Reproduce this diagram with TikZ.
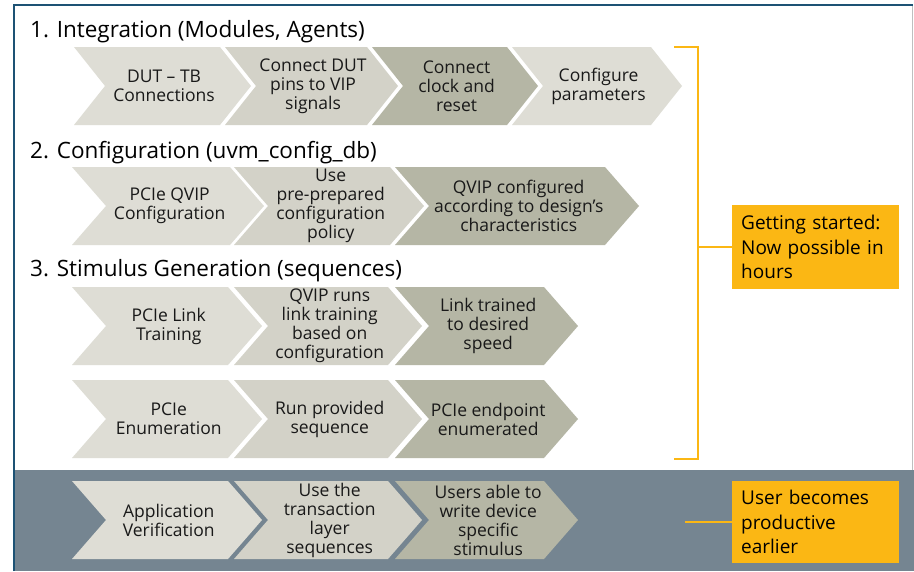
\documentclass[tikz,border=0pt]{standalone}
\usepackage{fontspec}
\setmainfont{Open Sans}
\usepackage{tikz}
\usetikzlibrary{calc}

\definecolor{chevlight}{HTML}{DEDDD5}
\definecolor{chevmid}{HTML}{D3D2C8}
\definecolor{chevdark}{HTML}{B5B6A5}
\definecolor{band}{HTML}{758591}
\definecolor{frameblue}{HTML}{1D5274}
\definecolor{sunny}{HTML}{FBB714}

\begin{document}
\begin{tikzpicture}[x=1pt, y=-1pt, font=\fontsize{17.5}{19}\selectfont,
	chevtext/.style={align=center, inner sep=0pt, text=black!90},
	head/.style={font=\fontsize{22.5}{26}\selectfont, anchor=base west, inner sep=0pt},
	note/.style={fill=sunny, anchor=north west, align=left, inner sep=9pt, text width=149pt, font=\fontsize{19}{24.5}\selectfont},
	brk/.style={draw=sunny, line width=2pt}]
	\def\h{78}
	\def\chev#1#2#3#4#5#6#7{%
		\fill[#6] (#2,#3) -- ++(#4,0) -- ++(#5,0.5*\h) -- ++(-#5,0.5*\h) -- ++(-#4,0) -- ++(#5,-0.5*\h) -- cycle;
		\node[chevtext] (#1) at (#2+0.5*#4+0.55*#5, #3+0.5*\h) {#7};}

	\useasboundingbox (0,0) rectangle (914,571);
	\fill[white] (0,0) rectangle (914,571);
	\fill[band] (13,470) rectangle (914,571);
	\draw[black!25, line width=1pt] (912,5) -- (912,470);
	\draw[frameblue, line width=2pt] (14,571) -- (14,5) -- (913,5);

	% headings
	\node[head] (intg) at (30,37) {1. Integration (Modules, Agents)};
	\node[head] (conf) at (30,158) {2. Configuration (uvm\_config\_db)};
	\node[head] (stim) at (30,276) {3. Stimulus Generation (sequences)};

	% 1. integration
	\chev{dut}{74}{47}{146}{31}{chevlight}{DUT – TB\\Connections}
	\chev{pins}{225}{47}{142}{31}{chevmid}{Connect DUT\\pins to VIP\\signals}
	\chev{clk}{372}{47}{135}{31}{chevdark}{Connect\\clock and\\reset}
	\chev{param}{512}{47}{139}{31}{chevlight}{Configure\\parameters}

	% 2. configuration
	\chev{qcfg}{72}{167}{158}{34}{chevlight}{PCIe QVIP\\Configuration}
	\chev{policy}{234}{167}{156}{34}{chevmid}{Use\\pre-prepared\\configuration\\policy}
	\chev{chars}{395}{167}{210}{34}{chevdark}{QVIP configured\\according to design’s\\characteristics}

	% 3. stimulus
	\chev{ltr}{72}{287}{156}{34}{chevlight}{PCIe Link\\Training}
	\chev{runs}{234}{287}{154}{34}{chevmid}{QVIP runs\\link training\\based on\\configuration}
	\chev{speed}{395}{287}{149}{34}{chevdark}{Link trained\\to desired\\speed}

	\chev{enum}{72}{380}{156}{34}{chevlight}{PCIe\\Enumeration}
	\chev{seq}{234}{380}{154}{34}{chevmid}{Run provided\\sequence}
	\chev{endp}{395}{380}{149}{34}{chevdark}{PCIe endpoint\\enumerated}

	\chev{appv}{72}{481}{156}{34}{chevlight}{Application\\Verification}
	\chev{tlay}{234}{481}{154}{34}{chevmid}{Use the\\transaction\\layer\\sequences}
	\chev{users}{395}{481}{149}{34}{chevdark}{Users able to\\write device\\specific\\stimulus}

	% notes
	\node[note, minimum height=84pt] (start) at (732,205) {Getting started:\\Now possible in\\hours};
	\node[note, minimum height=78pt] (prod) at (732,481) {User becomes\\productive\\earlier};

	\coordinate (btop) at (674,47);
	\coordinate (bbot) at (674,459);
	\draw[brk] (btop) -- ++(24,0) |- (bbot);
	\draw[brk] (start.west) -- (698,0 |- start.west);
	\draw[brk] (prod.west) -- ++(-47,0);
\end{tikzpicture}
\end{document}
